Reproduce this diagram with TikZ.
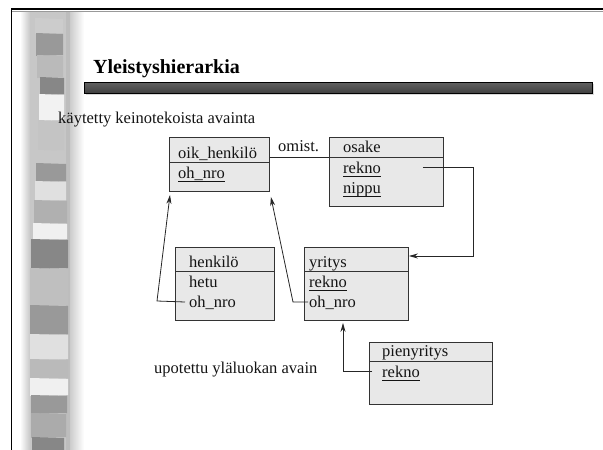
\documentclass[tikz,border=0pt]{standalone}
\usepackage{fontspec}
\setmainfont{Liberation Serif}
\usetikzlibrary{arrows.meta,calc}
% underline at a fixed depth below the baseline
\newcommand\ulbox[1]{\setbox0\hbox{#1}\rlap{\rule[-3.4pt]{\wd0}{0.8pt}}\box0}

\begin{document}
\begin{tikzpicture}[x=1pt,y=-1pt,
  ebox/.style={draw=black!80, fill=black!9, line width=0.9pt, inner sep=0pt, anchor=north west},
  divider/.style={draw=black!80, line width=0.9pt},
  lbl/.style={inner sep=0pt, anchor=base west, font=\fontsize{16.5}{19}\selectfont, text=black!92},
  link/.style={draw=black!85, line width=0.8pt},
  arr/.style={link, -{Stealth[length=9pt,width=5pt]}},
]
\useasboundingbox (0,0) rectangle (603,450);

% ---- decorative left band ----
\shade[left color=white, right color=black!22] (20,11) rectangle (30,450);
\fill[black!22] (30,11) rectangle (66,450);
\fill[black!26] (66,11) rectangle (70,450);
\shade[left color=black!20, right color=white] (70,11) rectangle (84,450);
\foreach \a/\b/\c/\d/\g in {
  18/33/35/63/20, 33/55/36/63/40, 55/77/37/63/27, 77/94/40/64/47,
  94/120/39/64/5, 120/150/38/64/23, 150/163/37/65/22, 163/181/36/66/40,
  181/200/35/66/12, 200/223/34/67/31, 223/239/33/67/6, 239/268/31/68/47,
  268/305/30/68/25, 305/334/30/68/40, 334/359/30/68/12, 359/378/30/68/27,
  378/395/30/68/6, 395/413/31/67/40, 413/437/31/66/33, 437/450/32/64/47}
  {\fill[black!\g] (\c,\a) -- (\d,\a+1) -- (\d,\b) -- (\c,\b+1) -- cycle;}

% ---- frame ----
\draw[black!40, line width=1pt] (12,11) -- (603,11);
\draw[line width=2pt] (11,9) -- (603,9);
\draw[line width=1.6pt] (11.5,8) -- (11.5,450);

% ---- title and bar ----
\node[inner sep=0pt, anchor=base west, font=\fontsize{20}{24}\selectfont\bfseries] (title) at (93,73) {Yleistyshierarkia};
\fill[black!15] (86,84) rectangle (594,95);
\shadedraw[top color=black!62, middle color=black!42, bottom color=black!75, draw=black, line width=0.9pt] (84,82) rectangle (592,93);

\node[lbl] (cap1) at (58,123) {käytetty keinotekoista avainta};
\node[lbl] (cap2) at (154,373) {upotettu yläluokan avain};

% ---- entity boxes ----
\node[ebox, minimum width=100pt, minimum height=54pt] (oik) at (169,137) {};
\draw[divider] ($(oik.north west)+(0,25)$) -- ($(oik.north east)+(0,25)$);
\node[lbl] (oikT) at (178,158) {oik\_henkilö};
\node[lbl] (oikK) at (178,178) {\ulbox{oh\_nro}};

\node[ebox, minimum width=114pt, minimum height=69pt] (osk) at (329,137) {};
\draw[divider] ($(osk.north west)+(0,20)$) -- ($(osk.north east)+(0,20)$);
\node[lbl] (oskT) at (343,152) {osake};
\node[lbl] (oskR) at (343,173) {\ulbox{rekno}};
\node[lbl] (oskN) at (343,193) {\ulbox{nippu}};

\node[ebox, minimum width=99pt, minimum height=73pt] (hen) at (175,247) {};
\draw[divider] ($(hen.north west)+(0,24)$) -- ($(hen.north east)+(0,24)$);
\node[lbl] (henT) at (189,267) {henkilö};
\node[lbl] (henH) at (189,287) {hetu};
\node[lbl] (henO) at (189,307) {oh\_nro};

\node[ebox, minimum width=104pt, minimum height=73pt] (yri) at (304,247) {};
\draw[divider] ($(yri.north west)+(0,24)$) -- ($(yri.north east)+(0,24)$);
\node[lbl] (yriT) at (309,267) {yritys};
\node[lbl] (yriR) at (309,287) {\ulbox{rekno}};
\node[lbl] (yriO) at (309,307) {oh\_nro};

\node[ebox, minimum width=123pt, minimum height=62pt] (pie) at (369,342) {};
\draw[divider] ($(pie.north west)+(0,19)$) -- ($(pie.north east)+(0,19)$);
\node[lbl] (pieT) at (382,356) {pienyritys};
\node[lbl] (pieR) at (382,377) {\ulbox{rekno}};

% ---- connectors ----
\node[lbl] (omist) at (278,151) {omist.};
\draw[link] ($(oik.north east)+(0,20)$) -- ($(osk.north west)+(0,20)$);

\coordinate (rkA) at ($(oskR.base east)+(42,-6)$);
\draw[arr] (rkA) -- ++(50,0) |- ($(yri.north east)+(0,9)$);

\draw[arr] ($(henO.base west)+(-4,-5)$) -- (157,301) -- ($(oik.south west)+(1,3)$);
\draw[arr] ($(yriO.base west)+(-1,-5)$) -- (293,302) -- ($(oik.south east)+(1,5)$);
\draw[arr] ($(pieR.base west)+(-10,-6)$) -- (343,371) -- ($(yri.south west)+(39,2)$);
\end{tikzpicture}
\end{document}
